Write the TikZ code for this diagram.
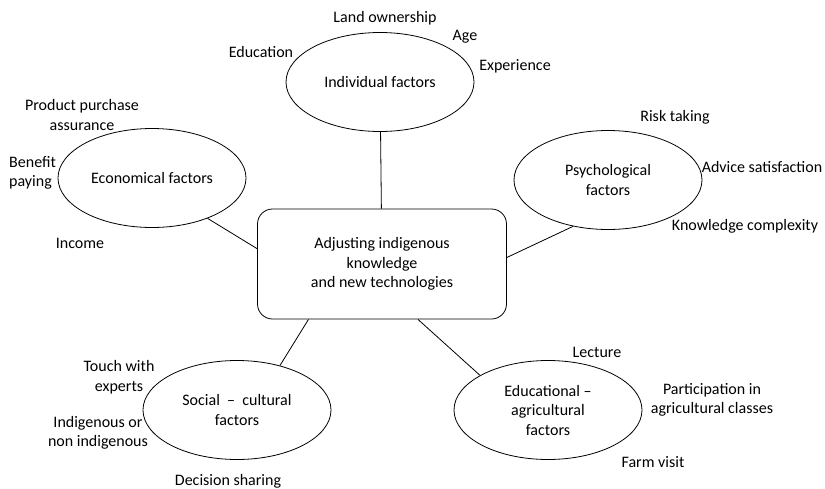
\documentclass[tikz,border=0pt]{standalone}
\usepackage{fontspec}
\setmainfont{Carlito}
\usetikzlibrary{shapes.geometric,positioning}
\tikzset{
	factor/.style={draw, ellipse, minimum width=188pt, minimum height=99pt, inner sep=0pt, align=center, line width=0.8pt},
	core/.style={draw, rectangle, rounded corners=15pt, minimum width=249pt, minimum height=110pt, align=center, line width=0.8pt},
	item/.style={align=center, inner sep=0pt},
	link/.style={draw, line width=0.8pt}
}
\begin{document}
\begin{tikzpicture}[x=1pt,y=-1pt,font=\fontsize{16}{19.5}\selectfont]
		\useasboundingbox (0,0) rectangle (825,488); % page size in pixels
		
		\node[core]   (adj) at (382,264) {Adjusting indigenous\\knowledge\\and new technologies}; % center box
		
		\node[factor] (ind) at (380,82)  {Individual factors}; % top
		\node[factor] (eco) at (152,178) {Economical factors}; % left
		\node[factor] (psy) at (608,180) {Psychological\\factors}; % right
		\node[factor] (soc) at (237,410) {Social \ –\ \ cultural\\factors}; % bottom left
		\node[factor] (edu) at (548,410) {Educational –\\agricultural\\factors}; % bottom right
		
		\draw[link] (ind) -- (adj); % individual
		\draw[link] (eco.-36) -- (adj.173); % economical
		\draw[link] (psy.233) -- (adj.3); % psychological
		\draw[link] (soc.46) -- (adj.217); % social
		\draw[link] (edu.153) -- (adj.-57); % educational
		
		\node[item] (own)  at (385,18)  {Land ownership}; % individual items
		\node[item] (age)  at (465,37)  {Age};
		\node[item] (exp)  at (515,66)  {Experience};
		\node[item] (educ) at (261,52)  {Education};
		
		\node[item] (buy)  at (82,115)  {Product purchase\\assurance}; % economical items
		\node[item,align=left,anchor=west] (ben) at (9,173) {Benefit\\paying};
		\node[item] (inc)  at (80,243)  {Income};
		
		\node[item] (risk) at (675,117) {Risk taking}; % psychological items
		\node[item] (adv)  at (762,167) {Advice satisfaction};
		\node[item] (know) at (745,226) {Knowledge complexity};
		
		\node[item] (tch)  at (119,377) {Touch with\\experts}; % social items
		\node[item] (ind2) at (98,433)  {Indigenous or\\non indigenous};
		\node[item] (dec)  at (228,481) {Decision sharing};
		
		\node[item] (lec)  at (597,352) {Lecture}; % educational items
		\node[item] (par)  at (712,400) {Participation in\\agricultural classes};
		\node[item] (farm) at (653,462) {Farm visit};
		
\end{tikzpicture}
\end{document}
